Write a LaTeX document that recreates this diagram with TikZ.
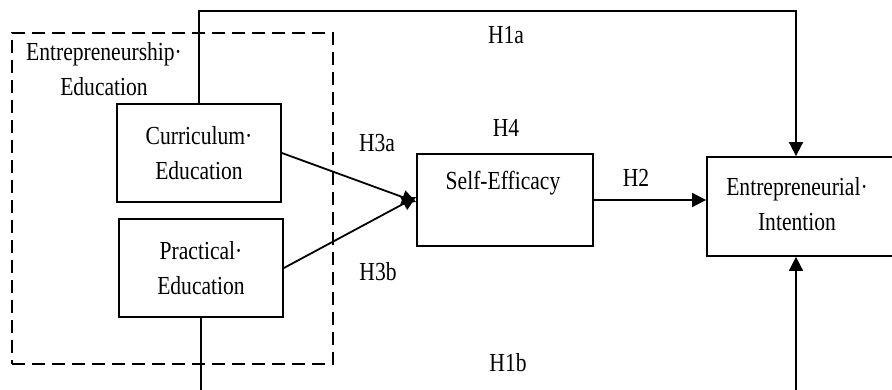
\documentclass[tikz,border=0pt]{standalone}
\usepackage{fontspec}
\setmainfont{Liberation Serif}[FakeStretch=0.83]
\usetikzlibrary{arrows.meta}
\begin{document}
\begin{tikzpicture}[x=1pt,y=-1pt,
  every node/.style={font=\fontsize{26}{35}\selectfont, inner sep=0pt},
  box/.style={draw, line width=1.8pt, rectangle, align=center},
  hyp/.style={},
  arr/.style={line width=1.8pt, -{Triangle[length=14pt,width=14pt]}},
  conn/.style={line width=1.8pt}]
\fill[white] (0,0) rectangle (892,390);
\useasboundingbox (0,0) rectangle (892,390);
\clip (0,0) rectangle (892,390);
% dashed group
\node[draw, line width=1.8pt, dash pattern=on 13pt off 7pt, minimum width=321pt, minimum height=331pt] (grp) at (172.5,198.5) {};
\node[align=center] (grplabel) at (104,69) {Entrepreneurship·\\Education};
% boxes
\node[box, minimum width=164pt, minimum height=98pt] (cur) at (199,153) {Curriculum·\\Education};
\node[box, minimum width=164pt, minimum height=98pt] (prac) at (201,268) {Practical·\\Education};
\node[box, minimum width=176pt, minimum height=92pt] (se) at (505,200) {};
\node (selabel) at (503,183) {Self-Efficacy};
\node[box, minimum width=193pt, minimum height=99pt] (ei) at (803.5,206.5) {};
\node[align=center] (eilabel) at (797,204) {Entrepreneurial·\\Intention};
% corners
\coordinate (topc) at (796,11);
\coordinate (botc) at (796,420);
% connectors
\draw[arr] (cur.north) |- (topc) -- (ei.north -| topc);
\draw[arr] (prac.south) |- (botc) -- (ei.south -| botc);
\draw[arr] (cur.east) -- ([yshift=-2pt]se.west);
\draw[arr] (prac.east) -- ([yshift=3pt]se.west);
\draw[arr] (se.east) -- (se.east -| ei.west);
% hypothesis labels
\node[hyp] (h1a) at (506,35) {H1a};
\node[hyp] (h4) at (506,128) {H4};
\node[hyp] (h3a) at (377,143) {H3a};
\node[hyp] (h2) at (636,178) {H2};
\node[hyp] (h3b) at (378,272) {H3b};
\node[hyp] (h1b) at (508,363) {H1b};
\end{tikzpicture}
\end{document}
